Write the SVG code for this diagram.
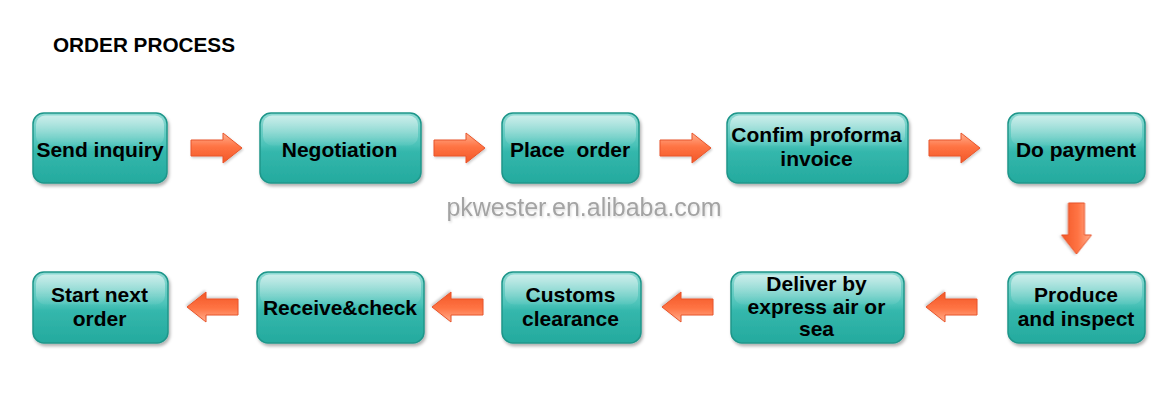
<svg xmlns="http://www.w3.org/2000/svg" width="1168" height="416" viewBox="0 0 1168 416">
<style>
.box{fill:url(#teal);stroke:#1f968a;stroke-width:1.5;filter:url(#sh)}
.gloss{fill:url(#gl)}
.lbl{font-family:"Liberation Sans",Arial,sans-serif;font-weight:bold;font-size:21px;fill:#000;text-anchor:middle}
.arr{fill:url(#org);stroke:#e8552a;stroke-width:1;filter:url(#sh2)}
</style>
<defs>
<linearGradient id="teal" x1="0" y1="0" x2="0" y2="1">
<stop offset="0" stop-color="#8fdad3"/>
<stop offset="0.45" stop-color="#4cc3b9"/>
<stop offset="0.55" stop-color="#34b7ac"/>
<stop offset="1" stop-color="#24aa9e"/>
</linearGradient>
<linearGradient id="gl" x1="0" y1="0" x2="0" y2="1">
<stop offset="0" stop-color="#ffffff" stop-opacity="0.55"/>
<stop offset="1" stop-color="#ffffff" stop-opacity="0.05"/>
</linearGradient>
<linearGradient id="org" x1="0" y1="0" x2="0" y2="1">
<stop offset="0" stop-color="#ffb090"/>
<stop offset="0.45" stop-color="#ff7444"/>
<stop offset="1" stop-color="#f25626"/>
</linearGradient>
<filter id="sh" x="-10%" y="-10%" width="125%" height="130%">
<feDropShadow dx="1.5" dy="2.5" stdDeviation="1.5" flood-color="#000" flood-opacity="0.3"/>
</filter>
<filter id="sh2" x="-20%" y="-20%" width="150%" height="150%">
<feDropShadow dx="1" dy="1.5" stdDeviation="1" flood-color="#000" flood-opacity="0.2"/>
</filter>
<filter id="tsh" x="-5%" y="-20%" width="110%" height="150%">
<feDropShadow dx="1" dy="1.5" stdDeviation="0.8" flood-color="#000" flood-opacity="0.15"/>
</filter>
<path id="ar" d="M0,-8 H32 V-15 L51,0 L32,15 V8 H0 Z"/>
</defs>
<rect width="1168" height="416" fill="#fff"/>
<text x="53" y="52" font-family="'Liberation Sans',Arial,sans-serif" font-weight="bold" font-size="19.5" textLength="182" lengthAdjust="spacingAndGlyphs">ORDER PROCESS</text>
<text x="584" y="216" font-family="'Liberation Sans',Arial,sans-serif" font-size="25" fill="#a3a3a3" text-anchor="middle" filter="url(#tsh)">pkwester.en.alibaba.com</text>

<g id="connectors">
<use href="#ar" class="arr" transform="translate(191,148)"/>
<use href="#ar" class="arr" transform="translate(434,148)"/>
<use href="#ar" class="arr" transform="translate(660,148)"/>
<use href="#ar" class="arr" transform="translate(929,148)"/>
<use href="#ar" class="arr" transform="translate(1076.5,203) rotate(90)"/>
<use href="#ar" class="arr" transform="translate(977,307) rotate(180)"/>
<use href="#ar" class="arr" transform="translate(713,307) rotate(180)"/>
<use href="#ar" class="arr" transform="translate(483,307) rotate(180)"/>
<use href="#ar" class="arr" transform="translate(238,307) rotate(180)"/>
</g>

<g id="n1"><rect class="box" x="33" y="113" width="134" height="70" rx="11"/><rect class="gloss" x="36" y="115.5" width="128" height="30" rx="9"/><text class="lbl" x="100" y="156.5">Send inquiry</text></g>
<g id="n2"><rect class="box" x="260" y="113" width="161" height="70" rx="11"/><rect class="gloss" x="263" y="115.5" width="155" height="30" rx="9"/><text class="lbl" x="339.5" y="156.5">Negotiation</text></g>
<g id="n3"><rect class="box" x="502" y="113" width="137" height="70" rx="11"/><rect class="gloss" x="505" y="115.5" width="131" height="30" rx="9"/><text class="lbl" x="570" y="156.5" xml:space="preserve">Place  order</text></g>
<g id="n4"><rect class="box" x="727" y="113" width="181" height="70" rx="11"/><rect class="gloss" x="730" y="115.5" width="175" height="30" rx="9"/><text class="lbl" x="816.5" y="142">Confim proforma</text><text class="lbl" x="816.5" y="166">invoice</text></g>
<g id="n5"><rect class="box" x="1008" y="113" width="137" height="70" rx="11"/><rect class="gloss" x="1011" y="115.5" width="131" height="30" rx="9"/><text class="lbl" x="1076" y="156.5">Do payment</text></g>

<g id="n6"><rect class="box" x="1008" y="272" width="137" height="71" rx="11"/><rect class="gloss" x="1011" y="274.5" width="131" height="30" rx="9"/><text class="lbl" x="1076" y="301.5">Produce</text><text class="lbl" x="1076" y="325.5">and inspect</text></g>
<g id="n7"><rect class="box" x="731" y="272" width="173" height="71" rx="11"/><rect class="gloss" x="734" y="274.5" width="167" height="30" rx="9"/><text class="lbl" x="816.5" y="291">Deliver by</text><text class="lbl" x="816.5" y="313.5">express air or</text><text class="lbl" x="816.5" y="336">sea</text></g>
<g id="n8"><rect class="box" x="502" y="272" width="139" height="71" rx="11"/><rect class="gloss" x="505" y="274.5" width="133" height="30" rx="9"/><text class="lbl" x="570.5" y="301.5">Customs</text><text class="lbl" x="570.5" y="325.5">clearance</text></g>
<g id="n9"><rect class="box" x="257" y="272" width="167" height="71" rx="11"/><rect class="gloss" x="260" y="274.5" width="161" height="30" rx="9"/><text class="lbl" x="340" y="314.5">Receive&amp;check</text></g>
<g id="n10"><rect class="box" x="33" y="272" width="135" height="71" rx="11"/><rect class="gloss" x="36" y="274.5" width="129" height="30" rx="9"/><text class="lbl" x="99.5" y="301.5">Start next</text><text class="lbl" x="99.5" y="325.5">order</text></g>
</svg>
